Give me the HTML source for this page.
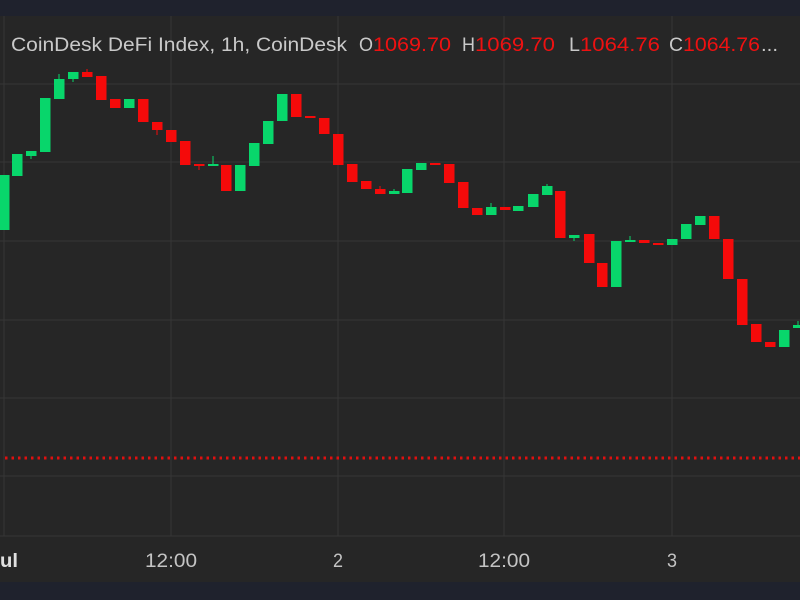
<!DOCTYPE html>
<html><head><style>
html,body{margin:0;padding:0;background:#262626;}
svg{display:block;}
</style></head><body>
<svg width="800" height="600" xmlns="http://www.w3.org/2000/svg" font-family="Liberation Sans, sans-serif">
<rect width="800" height="600" fill="#262626"/>
<rect width="800" height="16" fill="#1f222d"/>
<rect y="582" width="800" height="18" fill="#1f222d"/>
<g stroke="#363636" stroke-width="1">
<line x1="4" y1="16" x2="4" y2="536"/><line x1="171" y1="16" x2="171" y2="536"/><line x1="338" y1="16" x2="338" y2="536"/><line x1="504" y1="16" x2="504" y2="536"/><line x1="672" y1="16" x2="672" y2="536"/>
<line x1="0" y1="84" x2="800" y2="84"/><line x1="0" y1="162" x2="800" y2="162"/><line x1="0" y1="241" x2="800" y2="241"/><line x1="0" y1="320" x2="800" y2="320"/><line x1="0" y1="398" x2="800" y2="398"/><line x1="0" y1="476" x2="800" y2="476"/>
<line x1="0" y1="536" x2="800" y2="536"/>
</g>
<line x1="5" y1="458" x2="800" y2="458" stroke="#e01010" stroke-width="3" stroke-dasharray="2.5,4"/>
<g id="c"></g>
<g font-size="19" fill="#c9c9c9">
<text x="11" y="51" textLength="336" lengthAdjust="spacingAndGlyphs">CoinDesk DeFi Index, 1h, CoinDesk</text>
<text x="359" y="51" textLength="14" lengthAdjust="spacingAndGlyphs">O</text>
<text x="373" y="51" fill="#ee1111" textLength="78" lengthAdjust="spacingAndGlyphs">1069.70</text>
<text x="462" y="51" textLength="13" lengthAdjust="spacingAndGlyphs">H</text>
<text x="475" y="51" fill="#ee1111" textLength="80" lengthAdjust="spacingAndGlyphs">1069.70</text>
<text x="569" y="51" textLength="11" lengthAdjust="spacingAndGlyphs">L</text>
<text x="580" y="51" fill="#ee1111" textLength="80" lengthAdjust="spacingAndGlyphs">1064.76</text>
<text x="669" y="51" textLength="14" lengthAdjust="spacingAndGlyphs">C</text>
<text x="683" y="51" fill="#ee1111" textLength="77" lengthAdjust="spacingAndGlyphs">1064.76</text>
<text x="761" y="51" textLength="17" lengthAdjust="spacingAndGlyphs">...</text>
</g>
<g font-size="19" fill="#c4c4c4">
<text x="0" y="567" font-weight="bold" fill="#e0e0e0" textLength="18" lengthAdjust="spacingAndGlyphs">ul</text>
<text x="145" y="567" textLength="52" lengthAdjust="spacingAndGlyphs">12:00</text>
<text x="333" y="567" textLength="10" lengthAdjust="spacingAndGlyphs">2</text>
<text x="478" y="567" textLength="52" lengthAdjust="spacingAndGlyphs">12:00</text>
<text x="667" y="567" textLength="10" lengthAdjust="spacingAndGlyphs">3</text>
</g>
</svg>
<script>
var d=[[4,175,230,'g'],[17,154,176,'g'],[31,151,156,'g',159],[45,98,152,'g'],[59,79,99,'g',74],[73,72,79,'g',82],[87,72,77,'r',69],[101,76,100,'r'],[115,99,108,'r'],[129,99,108,'g'],[143,99,122,'r'],[157,122,130,'r',135],[171,130,142,'r'],[185,141,165,'r'],[199,164,166,'r',170],[213,164,166,'g',156],[226,165,191,'r'],[240,165,191,'g'],[254,143,166,'g'],[268,121,144,'g'],[282,94,121,'g'],[296,94,117,'r'],[310,116,118,'r'],[324,118,134,'r'],[338,134,165,'r'],[352,164,182,'r'],[366,181,189,'r'],[380,189,194,'r',186],[394,191,194,'g',189],[407,169,193,'g'],[421,163,170,'g'],[435,163,165,'r'],[449,164,183,'r'],[463,182,208,'r'],[477,208,215,'r'],[491,207,215,'g',203],[505,207,210,'r'],[518,206,211,'g'],[533,194,207,'g'],[547,186,195,'g',184],[560,191,238,'r'],[574,235,238,'g',241],[589,234,263,'r'],[602,263,287,'r'],[616,241,287,'g'],[630,240,241,'g',236],[644,240,243,'r'],[658,243,245,'r'],[672,239,245,'g'],[686,224,239,'g'],[700,216,225,'g'],[714,216,239,'r'],[728,239,279,'r'],[742,279,325,'r'],[756,324,342,'r'],[770,342,347,'r'],[784,330,347,'g'],[798,325,328,'g',321]];
var s='';d.forEach(function(c){var col=c[3]=='g'?'#08d66b':'#f50a0a';var h=Math.max(2,c[2]-c[1]);
if(c[4]){var a=Math.min(c[1],c[4]),b=Math.max(c[2],c[4]);s+='<line x1="'+c[0]+'" x2="'+c[0]+'" y1="'+a+'" y2="'+b+'" stroke="'+col+'" stroke-width="1"/>';}
s+='<rect x="'+(c[0]-5)+'" y="'+c[1]+'" width="10.5" height="'+h+'" fill="'+col+'"/>';});
document.getElementById('c').innerHTML=s;
</script>
</body></html>
